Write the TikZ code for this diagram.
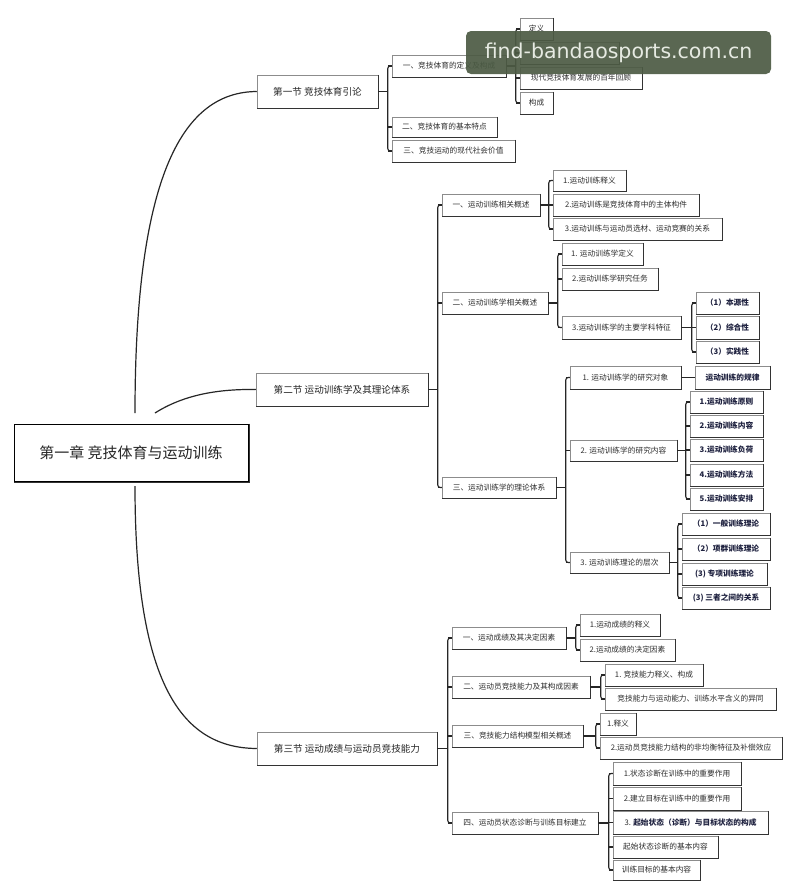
\documentclass[tikz,border=0pt]{standalone}
\usepackage{fontspec}
\setmainfont{Noto Sans CJK SC}
\newfontfamily\wmfont{DejaVu Sans}
\usetikzlibrary{calc}
\definecolor{wmgreen}{HTML}{4C5B44}
\definecolor{wmtext}{HTML}{E6EAE2}
\definecolor{txt}{HTML}{2E2E2E}
\definecolor{navy}{HTML}{1F2240}
\tikzset{
  box/.style={draw=black!45, line width=0.5pt, fill=white, text=txt, font=\fontsize{7.7}{9}\selectfont, inner sep=1pt},
  bbold/.style={font=\fontsize{7.7}{9}\selectfont\bfseries, text=navy},
  sec/.style={font=\fontsize{9.6}{11}\selectfont, text=black!85},
  rootbox/.style={draw=black, line width=1pt, font=\fontsize{15}{17}\selectfont, text=black!85},
  edge/.style={black!80, line width=0.9pt},
  conn/.style={line width=1.1pt, black!85, rounded corners=2.5pt},
  bigconn/.style={line width=1.2pt, black!85}
}
\newcommand\bx[7][]{%
  \pgfmathsetmacro\bxw{#5-#3}%
  \pgfmathsetmacro\bxh{#6-#4}%
  \node[box,minimum width=\bxw pt,minimum height=\bxh pt,#1] (#2) at ({(#3+#5)/2},{(#4+#6)/2}) {#7};
  \draw[edge] ([xshift=0.6pt]#2.north east) -- ([xshift=0.6pt,yshift=-0.6pt]#2.south east) -- ([yshift=-0.6pt]#2.south west);
}
\newcommand\fork[4]{%
  \coordinate (tmpb) at ($(#2.west)+(-4,0)$);
  \draw[conn] (#2.west) -- (tmpb) |- (#3.west);
  \draw[conn] (#1.east) -- (#1.east -| tmpb);
  \foreach \c in {#4} {\draw[conn] (\c.west) -- (\c.west -| tmpb);}
}
\begin{document}
\begin{tikzpicture}[x=1pt,y=-1pt]
\fill[white] (0,0) rectangle (800,881);
\useasboundingbox (0,0) rectangle (800,881);

% root
\bx[rootbox]{root}{14}{424}{248}{481}{第一章 竞技体育与运动训练}

% sections
\bx[sec]{s1}{257}{75}{378}{108}{第一节 竞技体育引论}
\bx[sec]{s2}{256}{373}{428}{406}{第二节 运动训练学及其理论体系}
\bx[sec]{s3}{257}{732}{437}{765}{第三节 运动成绩与运动员竞技能力}

\coordinate (r1) at (135,413);
\coordinate (r2) at (155,413);
\coordinate (r3) at (135,486);
\draw[bigconn] (r1) .. controls (135,170) and (185,92) .. (s1.west);
\draw[bigconn] (r2) .. controls (185,394) and (220,389) .. (s2.west);
\draw[bigconn] (r3) .. controls (135,690) and (185,748) .. (s3.west);

% section 1
\bx{a1}{392}{55}{506}{77}{一、竞技体育的定义及构成}
\bx{a2}{392}{117}{497}{137}{二、竞技体育的基本特点}
\bx{a3}{392}{140}{515}{162}{三、竞技运动的现代社会价值}
\fork{s1}{a1}{a3}{a1,a2,a3}
\bx{a11}{520}{18}{553}{40}{定义}
\bx{a12}{520}{42}{619}{64}{}
\bx{a13}{520}{67}{642}{89}{现代竞技体育发展的百年回顾}
\bx{a14}{520}{92}{553}{114}{构成}
\fork{a1}{a11}{a14}{a11,a12,a13,a14}

% section 2
\bx{b1}{442}{194}{540}{216}{一、运动训练相关概述}
\bx{b2}{442}{292}{548}{314}{二、运动训练学相关概述}
\bx{b3}{442}{477}{556}{498}{三、运动训练学的理论体系}
\fork{s2}{b1}{b3}{b1,b2,b3}
\bx{b11}{553}{170}{626}{191}{1.运动训练释义}
\bx{b12}{553}{194}{699}{216}{2.运动训练是竞技体育中的主体构件}
\bx{b13}{553}{218}{722}{240}{3.运动训练与运动员选材、运动竞赛的关系}
\fork{b1}{b11}{b13}{b11,b12,b13}
\bx{b21}{562}{243}{643}{265}{1. 运动训练学定义}
\bx{b22}{562}{268}{658}{290}{2.运动训练学研究任务}
\bx{b23}{562}{316}{681}{339}{3.运动训练学的主要学科特征}
\fork{b2}{b21}{b23}{b21,b22,b23}
\bx[bbold]{b231}{696}{292}{759}{314}{（1）本源性}
\bx[bbold]{b232}{696}{316}{759}{339}{（2）综合性}
\bx[bbold]{b233}{696}{341}{759}{363}{（3）实践性}
\fork{b23}{b231}{b233}{b231,b232,b233}
\bx{b31}{570}{366}{681}{389}{1. 运动训练学的研究对象}
\bx{b32}{570}{440}{677}{461}{2. 运动训练学的研究内容}
\bx{b33}{570}{552}{669}{573}{3. 运动训练理论的层次}
\fork{b3}{b31}{b33}{b31,b32,b33}
\bx[bbold]{b311}{695}{366}{770}{389}{运动训练的规律}
\draw[conn] (b31.east) -- (b311.west);
\bx[bbold]{b321}{690}{391}{763}{413}{1.运动训练原则}
\bx[bbold]{b322}{690}{415}{763}{437}{2.运动训练内容}
\bx[bbold]{b323}{690}{439}{763}{461}{3.运动训练负荷}
\bx[bbold]{b324}{690}{464}{763}{486}{4.运动训练方法}
\bx[bbold]{b325}{690}{488}{763}{510}{5.运动训练安排}
\fork{b32}{b321}{b325}{b321,b322,b323,b324,b325}
\bx[bbold]{b331}{682}{513}{770}{535}{（1）一般训练理论}
\bx[bbold]{b332}{682}{538}{770}{560}{（2）项群训练理论}
\bx[bbold]{b333}{682}{563}{767}{585}{(3) 专项训练理论}
\bx[bbold]{b334}{682}{587}{770}{609}{(3) 三者之间的关系}
\fork{b33}{b331}{b334}{b331,b332,b333,b334}

% section 3
\bx{c1}{452}{627}{566}{649}{一、运动成绩及其决定因素}
\bx{c2}{452}{676}{590}{698}{二、运动员竞技能力及其构成因素}
\bx{c3}{452}{725}{583}{747}{三、竞技能力结构模型相关概述}
\bx{c4}{452}{812}{598}{834}{四、运动员状态诊断与训练目标建立}
\fork{s3}{c1}{c4}{c1,c2,c3,c4}
\bx{c11}{580}{614}{660}{636}{1.运动成绩的释义}
\bx{c12}{580}{639}{675}{661}{2.运动成绩的决定因素}
\fork{c1}{c11}{c12}{c11,c12}
\bx{c21}{605}{664}{703}{686}{1. 竞技能力释义、构成}
\bx{c22}{605}{688}{776}{710}{竞技能力与运动能力、训练水平含义的异同}
\fork{c2}{c21}{c22}{c21,c22}
\bx{c31}{600}{713}{636}{735}{1.释义}
\bx{c32}{600}{737}{782}{759}{2.运动员竞技能力结构的非均衡特征及补偿效应}
\fork{c3}{c31}{c32}{c31,c32}
\bx{c41}{613}{762}{741}{785}{1.状态诊断在训练中的重要作用}
\bx{c42}{613}{787}{741}{810}{2.建立目标在训练中的重要作用}
\bx{c43}{613}{811}{768}{834}{3. {\bfseries\color{navy}起始状态（诊断）与目标状态的构成}}
\bx{c44}{613}{836}{718}{858}{起始状态诊断的基本内容}
\bx{c45}{613}{860}{700}{880}{训练目标的基本内容}
\fork{c4}{c41}{c45}{c41,c42,c43,c44,c45}

% watermark
\node[fill=wmgreen, fill opacity=0.92, text opacity=1, rounded corners=5pt, minimum width=305pt, minimum height=43pt, inner sep=0pt,
      text=wmtext, font=\wmfont\fontsize{20.5}{22}\selectfont] (wm) at (618.5,52.5) {find-bandaosports.com.cn};
\end{tikzpicture}
\end{document}
